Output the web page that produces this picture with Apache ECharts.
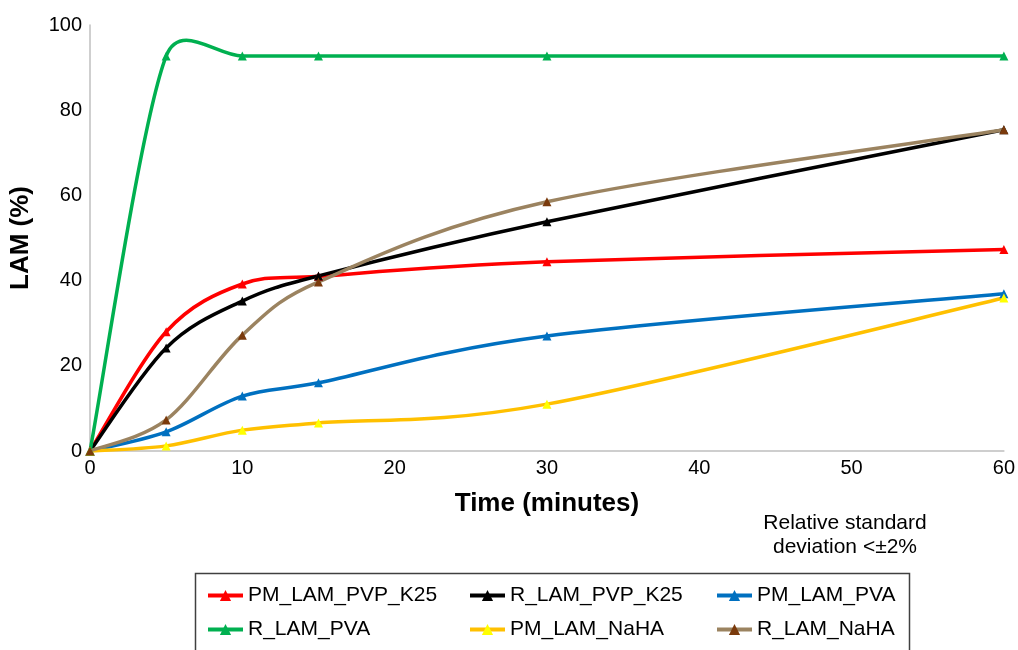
<!DOCTYPE html>
<html>
<head>
<meta charset="utf-8">
<script src="https://cdn.jsdelivr.net/npm/echarts@6/dist/echarts.min.js"></script>
<style>html,body{margin:0;padding:0;background:#fff}#c{width:1018px;height:650px}</style>
</head>
<body>
<div id="c"></div>
<script>
const times = [0, 5, 10, 15, 30, 60];
const seriesNames = ['PM_LAM_PVP_K25', 'R_LAM_PVP_K25', 'PM_LAM_PVA', 'R_LAM_PVA', 'PM_LAM_NaHA', 'R_LAM_NaHA'];
const pmPvpK25 = [0, 28, 39.2, 41, 44.4, 47.3];
const rPvpK25 = [0, 24.2, 35.2, 41.1, 53.8, 75.4];
const pmPva = [0, 4.5, 12.9, 16, 27, 36.9];
const rPva = [0, 92.7, 92.7, 92.7, 92.7, 92.7];
const pmNaha = [0, 1.2, 4.9, 6.6, 11, 35.9];
const rNaha = [0, 7.3, 27.2, 39.7, 58.5, 75.4];
const xTicks = [0, 10, 20, 30, 40, 50, 60];
const yTicks = [0, 20, 40, 60, 80, 100];

const values = [pmPvpK25, rPvpK25, pmPva, rPva, pmNaha, rNaha];
const lineColors = ['#ff0000', '#000000', '#0070c0', '#00b050', '#ffc000', '#9b8360'];
const markerColors = ['#ff0000', '#000000', '#0070c0', '#00b050', '#ffff00', '#7a3a0c'];
const FONT = 'Liberation Sans, Arial, sans-serif';

// Spreadsheet-style spline: tangent (next - prev) / 6, offset capped at half the adjacent segment
function ctrl(prev, cur, next, adj, forward) {
  let dx = (next[0] - prev[0]) / 6, dy = (next[1] - prev[1]) / 6;
  const len = Math.hypot(dx, dy);
  const segLen = Math.hypot(adj[0] - cur[0], adj[1] - cur[1]);
  const cap = segLen / 2;
  if (len > cap && len > 0) { dx *= cap / len; dy *= cap / len; }
  return forward ? [cur[0] + dx, cur[1] + dy] : [cur[0] - dx, cur[1] - dy];
}

function curveSeries(i) {
  const pts = times.map((t, j) => [t, values[i][j]]);
  const n = pts.length;
  return {
    type: 'custom',
    name: seriesNames[i] + ' curve',
    data: pts,
    encode: { x: 0, y: 1 },
    silent: true,
    clip: false,
    z: i === 3 ? 2 : 1,
    renderItem: function (params, api) {
      const k = params.dataIndex;
      if (k >= n - 1) return null;
      const P = m => api.coord(pts[Math.max(0, Math.min(n - 1, m))]);
      const p0 = P(k - 1), p1 = P(k), p2 = P(k + 1), p3 = P(k + 2);
      const c1 = ctrl(p0, p1, p2, p2, true);
      const c2 = ctrl(p1, p2, p3, p1, false);
      return {
        type: 'bezierCurve',
        shape: { x1: p1[0], y1: p1[1], x2: p2[0], y2: p2[1], cpx1: c1[0], cpy1: c1[1], cpx2: c2[0], cpy2: c2[1] },
        style: { stroke: lineColors[i], lineWidth: 3.5, fill: null }
      };
    }
  };
}

const markerSeries = seriesNames.map((n, i) => ({
  name: n,
  type: 'line',
  data: times.map((t, j) => [t, values[i][j]]),
  symbol: 'triangle',
  symbolSize: 9,
  showAllSymbol: true,
  lineStyle: { color: lineColors[i], width: 3.5, opacity: 0 },
  itemStyle: { color: markerColors[i], borderWidth: 0 },
  emphasis: { disabled: true },
  z: 5
}));

function legendCol(left, names) {
  return {
    orient: 'vertical', left: left, top: 585, itemGap: 13, padding: 0,
    itemWidth: 35, itemHeight: 14,
    data: names,
    lineStyle: { opacity: 1, width: 4 },
    textStyle: { fontFamily: FONT, fontSize: 21, color: '#000' },
    selectedMode: false
  };
}

const chart = echarts.init(document.getElementById('c'));
chart.setOption({
  animation: false,
  backgroundColor: '#fff',
  grid: { left: 90, right: 12, top: 25, bottom: 199 },
  xAxis: {
    type: 'value', min: 0, max: 60, interval: 10,
    name: 'Time (minutes)', nameLocation: 'middle', nameGap: 40,
    nameTextStyle: { fontFamily: FONT, fontSize: 26, fontWeight: 'bold', color: '#000' },
    axisLine: { show: true, lineStyle: { color: '#bfbfbf', width: 1.5 } },
    axisTick: { show: false },
    splitLine: { show: false },
    axisLabel: { fontFamily: FONT, fontSize: 20, color: '#000', margin: 7,
      formatter: v => xTicks.includes(v) ? String(v) : '' }
  },
  yAxis: {
    type: 'value', min: 0, max: 100, interval: 20,
    name: 'LAM (%)', nameLocation: 'middle', nameGap: 56, nameRotate: 90,
    nameTextStyle: { fontFamily: FONT, fontSize: 26, fontWeight: 'bold', color: '#000' },
    axisLine: { show: true, lineStyle: { color: '#bfbfbf', width: 1.5 } },
    axisTick: { show: false },
    splitLine: { show: false },
    axisLabel: { fontFamily: FONT, fontSize: 20, color: '#000', margin: 8,
      formatter: v => yTicks.includes(v) ? String(v) : '' }
  },
  legend: [
    legendCol(206, [seriesNames[0], seriesNames[3]]),
    legendCol(468, [seriesNames[1], seriesNames[4]]),
    legendCol(715, [seriesNames[2], seriesNames[5]])
  ],
  graphic: [
    { type: 'rect', left: 193, top: 571, shape: { width: 714, height: 110 },
      style: { fill: 'none', stroke: '#404040', lineWidth: 1.5 }, silent: true },
    { type: 'text', x: 845, y: 511, style: { text: 'Relative standard\ndeviation <±2%', font: '21px ' + FONT,
      fill: '#000', align: 'center', lineHeight: 24 } }
  ],
  series: seriesNames.map((n, i) => curveSeries(i)).concat(markerSeries)
});
</script>
</body>
</html>
